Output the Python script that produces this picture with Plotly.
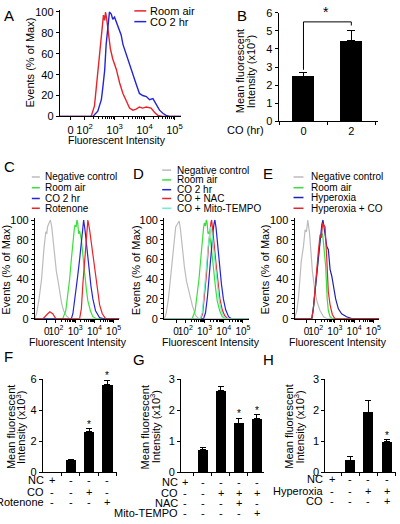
import math
import plotly.graph_objects as go

W, H = 400, 524
FONT = "Arial, Liberation Sans, sans-serif"

# ---------------- DATA ----------------
# Histogram x values are log10(fluorescent intensity); y = events (% of max)
# Panel A
a_room_x = [1.17, 2.22, 2.33, 2.39, 2.50, 2.59, 2.63, 2.67, 2.70, 2.74, 2.79, 2.86, 2.94, 3.06, 3.17, 3.28,
            3.39, 3.50, 3.61, 3.72, 3.83, 3.94, 4.06, 4.22, 4.33, 4.44, 4.61, 5.22]
a_room_y = [0, 0, 10, 28, 62, 90, 97, 92, 100, 93, 80, 65, 55, 45, 32, 22, 15, 8, 6, 7, 9, 8, 9, 8, 4, 1, 0, 0]
a_co_x = [1.17, 2.28, 2.44, 2.56, 2.61, 2.67, 2.72, 2.78, 2.83, 2.89, 2.94, 3.00, 3.11, 3.22, 3.28, 3.39,
          3.50, 3.61, 3.72, 3.83, 3.94, 4.06, 4.17, 4.28, 4.39, 4.50, 4.61, 4.72, 4.83, 5.22]
a_co_y = [0, 0, 5, 16, 28, 44, 69, 87, 100, 98, 93, 95, 87, 78, 69, 59, 50, 41, 31, 22, 20, 19, 16, 17, 12,
          6, 3, 1, 0, 0]

# Panel C
c_neg_x = [0.90, 0.99, 1.12, 1.25, 1.37, 1.47, 1.52, 1.56, 1.64, 1.71, 1.78, 1.85, 1.94, 2.02, 2.11, 2.20,
           2.30, 2.40, 2.54, 2.71, 5.30]
c_neg_y = [0, 5, 20, 40, 70, 88, 86, 93, 97, 100, 93, 80, 62, 48, 38, 25, 15, 8, 3, 0, 0]
c_room_x = [0.90, 2.35, 2.51, 2.59, 2.71, 2.80, 2.88, 2.95, 2.99, 3.05, 3.09, 3.13, 3.18, 3.23, 3.32, 3.40,
            3.49, 3.58, 3.66, 3.79, 3.92, 4.10, 5.30]
c_room_y = [0, 0, 8, 20, 40, 60, 80, 90, 95, 93, 100, 97, 86, 89, 80, 62, 45, 30, 18, 8, 2, 0, 0]
c_co_x = [0.90, 2.80, 2.88, 2.99, 3.11, 3.23, 3.34, 3.40, 3.44, 3.51, 3.61, 3.71, 3.82, 3.92, 4.06, 4.27,
          4.44, 5.30]
c_co_y = [0, 0, 5, 20, 40, 60, 80, 92, 100, 90, 70, 50, 33, 20, 8, 1, 0, 0]
c_rot_x = [0.90, 1.33, 1.52, 1.68, 1.83, 1.99, 3.23, 3.32, 3.40, 3.49, 3.58, 3.66, 3.75, 3.85, 3.96, 4.06,
           4.16, 4.27, 4.41, 4.58, 5.30]
c_rot_y = [0, 0, 4, 7, 5, 0, 0, 10, 35, 60, 85, 100, 90, 75, 58, 40, 25, 14, 5, 0, 0]

# Panel D
d_neg_x = [0.90, 1.00, 1.12, 1.24, 1.36, 1.50, 1.59, 1.68, 1.75, 1.85, 1.95, 2.06, 2.19, 2.37, 2.54, 2.70, 5.30]
d_neg_y = [0, 5, 20, 43, 70, 93, 96, 99, 90, 70, 53, 38, 27, 13, 3, 0, 0]
d_room_x = [0.90, 2.35, 2.51, 2.59, 2.71, 2.80, 2.88, 2.95, 2.99, 3.05, 3.09, 3.13, 3.18, 3.23, 3.32, 3.40,
            3.49, 3.58, 3.66, 3.79, 3.92, 4.10, 5.30]
d_room_y = [0, 0, 8, 20, 40, 60, 80, 92, 97, 94, 100, 98, 86, 88, 78, 62, 45, 30, 18, 8, 2, 0, 0]
d_co_x = [0.90, 2.95, 3.05, 3.15, 3.25, 3.35, 3.45, 3.50, 3.54, 3.60, 3.68, 3.78, 3.88, 3.98, 4.10, 4.25,
          4.40, 5.30]
d_co_y = [0, 0, 6, 22, 45, 70, 90, 97, 100, 92, 75, 55, 35, 20, 9, 2, 0, 0]
d_nac_x = [0.90, 2.80, 2.90, 3.00, 3.10, 3.20, 3.28, 3.33, 3.37, 3.42, 3.50, 3.60, 3.70, 3.80, 3.92, 4.05,
           4.20, 5.30]
d_nac_y = [0, 0, 5, 22, 45, 72, 90, 97, 100, 92, 75, 55, 35, 20, 9, 3, 0, 0]
d_mito_x = [0.90, 2.78, 2.88, 2.98, 3.08, 3.18, 3.26, 3.32, 3.38, 3.46, 3.56, 3.66, 3.76, 3.88, 4.02, 4.15, 5.30]
d_mito_y = [0, 0, 6, 24, 48, 72, 88, 93, 88, 72, 52, 33, 18, 7, 1, 0, 0]

# Panel E
e_neg_x = [0.90, 1.02, 1.11, 1.25, 1.37, 1.45, 1.52, 1.59, 1.68, 1.75, 1.83, 1.94, 2.06, 2.23, 2.41, 2.60, 5.30]
e_neg_y = [0, 8, 22, 58, 74, 90, 88, 100, 87, 67, 48, 31, 18, 8, 2, 0, 0]
e_room_x = [0.90, 1.80, 1.88, 1.97, 2.06, 2.14, 2.23, 2.30, 2.36, 2.44, 2.52, 2.60, 2.66, 2.75, 2.87, 5.30]
e_room_y = [0, 0, 10, 27, 47, 65, 80, 85, 86, 70, 53, 20, 8, 2, 0, 0]
e_hyp_x = [0.90, 1.80, 1.88, 1.97, 2.06, 2.14, 2.23, 2.32, 2.38, 2.44, 2.49, 2.58, 2.66, 2.75, 2.84, 2.92,
           3.04, 3.18, 3.35, 3.61, 3.87, 5.30]
e_hyp_y = [0, 0, 11, 28, 48, 67, 84, 95, 100, 92, 90, 73, 70, 50, 43, 33, 20, 10, 5, 2, 0, 0]
e_hypco_x = [0.90, 1.80, 1.88, 1.97, 2.06, 2.14, 2.23, 2.30, 2.36, 2.42, 2.49, 2.58, 2.66, 2.75, 2.87, 3.00, 5.30]
e_hypco_y = [0, 0, 10, 27, 50, 68, 85, 82, 97, 95, 93, 60, 27, 14, 4, 0, 0]

hist_tick_text = ["0", "10<sup>2</sup>", "10<sup>3</sup>", "10<sup>4</sup>", "10<sup>5</sup>"]
a_tick_pos = [1.53, 2, 3, 4, 5]
cde_tick_pos = [1.52, 2, 3, 4, 5]

# Panel B
b_cats = ["0", "2"]
b_mean = [2.48, 4.45]
b_err = [0.22, 0.60]
b_bracket_x = ["0", "0", "2", "2"]
b_bracket_y = [2.85, 5.5, 5.5, 5.3]

# Panel F
f_mean = [0, 0.78, 2.62, 5.65]
f_err = [0, 0.03, 0.18, 0.30]
f_star = [False, False, True, True]
f_rows = {"NC": ["+", "-", "-", "-"], "CO": ["-", "-", "+", "-"], "Rotenone": ["-", "-", "-", "+"]}

# Panel G
g_mean = [0, 0.72, 2.63, 1.58, 1.73]
g_err = [0, 0.09, 0.15, 0.16, 0.13]
g_star = [False, False, False, True, True]
g_rows = {"NC": ["+", "-", "-", "-", "-"], "CO": ["-", "-", "+", "+", "+"],
          "NAC": ["-", "-", "-", "+", "-"], "Mito-TEMPO": ["-", "-", "-", "-", "+"]}

# Panel H
h_mean = [0, 0.39, 1.93, 0.98]
h_err = [0, 0.10, 0.37, 0.06]
h_star = [False, False, False, True]
h_rows = {"NC": ["+", "-", "-", "-"], "Hyperoxia": ["-", "-", "+", "+"], "CO": ["-", "-", "-", "+"]}

# ---------------- STYLE ----------------
RED = "#e8232a"
BLUE = "#2424d8"
DBLUE = "#2020b0"
GREEN = "#3ae03a"
GRAY = "#bcbcbc"
CYAN = "#70f0cc"


def xd(a, b):
    return [a / W, b / W]


def yd(top, bottom):
    return [1 - bottom / H, 1 - top / H]


def px(x):
    return x / W


def py(y):
    return 1 - y / H


base_axis = dict(showline=True, linecolor="black", linewidth=1, ticks="outside", ticklen=3,
                 tickwidth=1, tickcolor="black", showgrid=False, zeroline=False, fixedrange=True,
                 tickfont=dict(family=FONT, size=11, color="black"))

minor_vals = []
for n in (2, 3, 4):
    for k in range(2, 10):
        minor_vals.append(n + math.log10(k))


def hist_x(dom, rng, tickpos, fs):
    d = dict(base_axis)
    d.update(domain=dom, range=rng, tickmode="array", tickvals=tickpos, ticktext=hist_tick_text,
             tickangle=0, ticklen=3, tickfont=dict(family=FONT, size=fs, color="black"),
             minor=dict(tickmode="array", tickvals=minor_vals, ticks="outside", ticklen=2,
                        tickcolor="black"))
    return d


def hist_y(dom, minor):
    d = dict(base_axis)
    d.update(domain=dom, range=[0, 102], tickmode="array", tickvals=[0, 20, 40, 60, 80, 100])
    if minor:
        d.update(minor=dict(dtick=5, tick0=0, ticks="outside", ticklen=2, tickcolor="black"))
    return d


def bar_x(dom, rng, n):
    d = dict(base_axis)
    d.update(domain=dom, range=rng, tickmode="array", tickvals=[i + 0.5 for i in range(n)],
             showticklabels=False)
    return d


def bar_y(dom, top, step):
    d = dict(base_axis)
    vals = []
    v = 0
    while v <= top + 1e-9:
        vals.append(v)
        v += step
    d.update(domain=dom, range=[0, top], tickmode="array", tickvals=vals)
    return d


fig = go.Figure()


def line(x, y, color, ax, w=1.2):
    fig.add_trace(go.Scatter(x=x, y=y, mode="lines", line=dict(color=color, width=w),
                             xaxis=ax[0], yaxis=ax[1], hoverinfo="skip", showlegend=False))


# Panel A
line(a_room_x, a_room_y, RED, ("x", "y"), 1.4)
line(a_co_x, a_co_y, BLUE, ("x", "y"), 1.4)

# Panel B
fig.add_trace(go.Bar(x=b_cats, y=b_mean, width=0.46, marker=dict(color="black", line=dict(width=0)),
                     error_y=dict(type="data", array=b_err, arrayminus=[0] * len(b_err), symmetric=False,
                                  color="black", thickness=1, width=4),
                     xaxis="x2", yaxis="y2", showlegend=False, hoverinfo="skip"))
fig.add_trace(go.Scatter(x=b_bracket_x, y=b_bracket_y, mode="lines", line=dict(color="black", width=1),
                         xaxis="x2", yaxis="y2", showlegend=False, hoverinfo="skip"))

# Panel C
line(c_neg_x, c_neg_y, GRAY, ("x3", "y3"))
line(c_room_x, c_room_y, GREEN, ("x3", "y3"))
line(c_co_x, c_co_y, BLUE, ("x3", "y3"))
line(c_rot_x, c_rot_y, RED, ("x3", "y3"))

# Panel D
line(d_neg_x, d_neg_y, GRAY, ("x4", "y4"))
line(d_room_x, d_room_y, GREEN, ("x4", "y4"))
line(d_co_x, d_co_y, BLUE, ("x4", "y4"))
line(d_nac_x, d_nac_y, RED, ("x4", "y4"))
line(d_mito_x, d_mito_y, CYAN, ("x4", "y4"))

# Panel E
line(e_neg_x, e_neg_y, GRAY, ("x5", "y5"))
line(e_room_x, e_room_y, GREEN, ("x5", "y5"))
line(e_hyp_x, e_hyp_y, DBLUE, ("x5", "y5"))
line(e_hypco_x, e_hypco_y, RED, ("x5", "y5"))

annotations = []


def bars(means, errs, stars, ax):
    n = len(means)
    xs = list(range(n))
    fig.add_trace(go.Bar(x=xs, y=means, width=0.55, marker=dict(color="black", line=dict(width=0)),
                         error_y=dict(type="data", array=errs, arrayminus=[0] * n, symmetric=False,
                                      color="black", thickness=1, width=3),
                         xaxis=ax[0], yaxis=ax[1], showlegend=False, hoverinfo="skip"))
    for i in range(n):
        if stars[i]:
            annotations.append(dict(x=i, y=means[i] + errs[i], xref=ax[0], yref=ax[1], text="*",
                                    showarrow=False, yanchor="bottom", yshift=-3,
                                    font=dict(family=FONT, size=10, color="black")))


bars(f_mean, f_err, f_star, ("x6", "y6"))
bars(g_mean, g_err, g_star, ("x7", "y7"))
bars(h_mean, h_err, h_star, ("x8", "y8"))


def txt(x, y, s, size=11, xanchor="center", yanchor="middle", angle=0, xref="paper"):
    annotations.append(dict(x=x, y=y, xref=xref, yref="paper", text=s, showarrow=False,
                            xanchor=xanchor, yanchor=yanchor, textangle=angle,
                            font=dict(family=FONT, size=size, color="black")))


# Panel letters
for letter, lx, ly in [("A", 2, 10), ("B", 236, 10), ("C", 2, 164), ("D", 132, 171), ("E", 262, 171),
                       ("F", 2, 359), ("G", 132, 362), ("H", 262, 362)]:
    txt(px(lx), py(ly), letter, size=15, xanchor="left")

# Axis titles
txt(px(30), py(58), "Events (% of Max)", angle=-90)
txt(px(118), py(137), "Fluorescent Intensity", size=10.5)
for cx, ax_title_x in [(78, 6), (212, 136), (340, 266)]:
    txt(px(ax_title_x), py(270), "Events (% of Max)", angle=-90)
    txt(px(cx), py(344), "Fluorescent Intensity", size=10.5)

for (x1, x2, yc) in [(242, 252, 67), (11, 21, 431), (146, 156, 431), (291, 301, 431)]:
    txt(px(x1), py(yc), "Mean fluorescent", angle=-90)
    txt(px(x2), py(yc), "Intensity (x10<sup>3</sup>)", angle=-90)

txt(px(267), py(127), "CO (hr)", xanchor="right")
annotations.append(dict(x=0.47, y=py(6), xref="x2", yref="paper", text="*", showarrow=False,
                        yanchor="middle", font=dict(family=FONT, size=14, color="black")))

# Row labels under bar panels
for rows, axname, label_right, row_y in [(f_rows, "x6", 46, [485, 497, 508]),
                                         (g_rows, "x7", 181, [487, 498, 509, 519]),
                                         (h_rows, "x8", 327, [484, 496, 507])]:
    for (name, syms), ry in zip(rows.items(), row_y):
        txt(px(label_right), py(ry), name, xanchor="right")
        for i, s in enumerate(syms):
            txt(i, py(ry), s, xref=axname)

# Legends (line keys + labels)
shapes = []


def legend(items, x0, x1, xt, ys, size):
    for (name, color), y in zip(items, ys):
        shapes.append(dict(type="line", xref="paper", yref="paper", x0=px(x0), x1=px(x1), y0=py(y), y1=py(y),
                           line=dict(color=color, width=1.5)))
        txt(px(xt), py(y), name, size=size, xanchor="left")


legend([("Room air", RED), ("CO 2 hr", BLUE)], 135, 147, 149, [5, 16], 11)
legend([("Negative control", GRAY), ("Room air", GREEN), ("CO 2 hr", BLUE), ("Rotenone", RED)],
       32, 40, 43, [175, 186, 197, 207], 10)
legend([("Negative control", GRAY), ("Room air", GREEN), ("CO 2 hr", BLUE), ("CO + NAC", RED),
        ("CO + Mito-TEMPO", CYAN)], 163, 172, 176, [168, 178, 188, 197, 207], 10)
legend([("Negative control", GRAY), ("Room air", GREEN), ("Hyperoxia", DBLUE), ("Hyperoxia + CO", RED)],
       295, 305, 311, [175, 186, 196, 207], 10)

# B axis
bx = dict(base_axis)
bx.update(domain=xd(280, 380), type="category", range=[-0.52, 1.56], tickson="boundaries")
by = bar_y(yd(7, 118), 6, 1)

fig.update_layout(
    width=W, height=H, margin=dict(l=0, r=0, t=0, b=0), paper_bgcolor="white", plot_bgcolor="white",
    font=dict(family=FONT, color="black"), showlegend=False, bargap=0,
    xaxis=hist_x(xd(60, 182), [1.17, 5.22], a_tick_pos, 11) | dict(anchor="y"),
    yaxis=hist_y(yd(4, 113), False) | dict(anchor="x"),
    xaxis2=bx | dict(anchor="y2"),
    yaxis2=by | dict(anchor="x2"),
    xaxis3=hist_x(xd(35, 120), [0.9, 5.3], cde_tick_pos, 10) | dict(anchor="y3"),
    yaxis3=hist_y(yd(217, 320), True) | dict(anchor="x3"),
    xaxis4=hist_x(xd(165, 250), [0.9, 5.3], cde_tick_pos, 10) | dict(anchor="y4"),
    yaxis4=hist_y(yd(217, 320), True) | dict(anchor="x4"),
    xaxis5=hist_x(xd(296, 381), [0.9, 5.3], cde_tick_pos, 10) | dict(anchor="y5"),
    yaxis5=hist_y(yd(217, 320), True) | dict(anchor="x5"),
    xaxis6=bar_x(xd(43, 118), [-0.51, 3.54], 4) | dict(anchor="y6"),
    yaxis6=bar_y(yd(382, 477), 6, 2) | dict(anchor="x6"),
    xaxis7=bar_x(xd(182, 265), [-0.22, 4.39], 5) | dict(anchor="y7"),
    yaxis7=bar_y(yd(382, 477), 3, 1) | dict(anchor="x7"),
    xaxis8=bar_x(xd(327, 398), [-0.36, 3.52], 4) | dict(anchor="y8"),
    yaxis8=bar_y(yd(382, 477), 3, 1) | dict(anchor="x8"),
    annotations=annotations,
    shapes=shapes,
)

fig.write_html("out.html", config={"displayModeBar": False, "staticPlot": True},
               post_script="document.body.style.margin='0';")
